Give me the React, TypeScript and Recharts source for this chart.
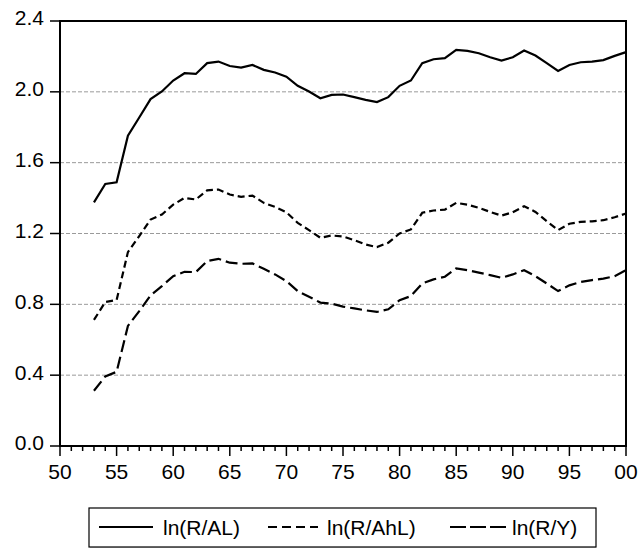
import React from 'react';
import { LineChart, Line, XAxis, YAxis, CartesianGrid, ReferenceArea } from 'recharts';

const years = [
  53, 54, 55, 56, 57, 58, 59, 60, 61, 62, 63, 64, 65, 66, 67, 68, 69, 70, 71, 72, 73, 74, 75, 76,
  77, 78, 79, 80, 81, 82, 83, 84, 85, 86, 87, 88, 89, 90, 91, 92, 93, 94, 95, 96, 97, 98, 99, 100,
];

const lnRAL = [
  1.376, 1.48, 1.489, 1.752, 1.855, 1.959, 2.002, 2.064, 2.105, 2.101, 2.162, 2.171, 2.146, 2.137,
  2.152, 2.124, 2.109, 2.086, 2.034, 2.002, 1.964, 1.983, 1.985, 1.97, 1.955, 1.942, 1.97, 2.034,
  2.064, 2.162, 2.184, 2.19, 2.237, 2.231, 2.218, 2.195, 2.177, 2.195, 2.233, 2.205, 2.162, 2.118,
  2.152, 2.167, 2.171, 2.179, 2.203, 2.224,
];

const lnRAhL = [
  0.712, 0.813, 0.824, 1.095, 1.185, 1.279, 1.307, 1.363, 1.401, 1.392, 1.444, 1.448, 1.42, 1.407,
  1.414, 1.373, 1.35, 1.32, 1.26, 1.219, 1.176, 1.189, 1.183, 1.162, 1.138, 1.123, 1.148, 1.2,
  1.223, 1.317, 1.33, 1.335, 1.373, 1.363, 1.345, 1.322, 1.301, 1.32, 1.354, 1.322, 1.269, 1.219,
  1.255, 1.266, 1.269, 1.275, 1.292, 1.313,
];

const lnRY = [
  0.312, 0.393, 0.419, 0.678, 0.762, 0.851, 0.903, 0.959, 0.984, 0.982, 1.044, 1.057, 1.035, 1.029,
  1.031, 1.001, 0.969, 0.931, 0.875, 0.843, 0.81, 0.804, 0.787, 0.777, 0.766, 0.757, 0.772, 0.823,
  0.847, 0.918, 0.941, 0.956, 1.003, 0.993, 0.979, 0.965, 0.95, 0.969, 0.993, 0.959, 0.918, 0.875,
  0.907, 0.926, 0.937, 0.945, 0.959, 0.993,
];

const yTicks = [0, 0.4, 0.8, 1.2, 1.6, 2.0, 2.4];
// one tick per year, labelled every fifth
const xTicks = Array.from({ length: 51 }, (_, i) => 50 + i);

const data = years.map((yr, i) => ({ year: yr, al: lnRAL[i], ahl: lnRAhL[i], ry: lnRY[i] }));

const FONT = '"Liberation Sans", Arial, sans-serif';

const YearTick = (props: any) => {
  const { x, y, payload } = props;
  const v: number = payload.value;
  const major = v % 5 === 0;
  return (
    <g>
      <line x1={x} x2={x} y1={y} y2={y + (major ? 10 : 5)} stroke="#000" strokeWidth={1.5} />
      {major && (
        <text x={x} y={y + 33} textAnchor="middle" fill="#000" fontSize={21} fontFamily={FONT}>
          {String(v % 100).padStart(2, '0')}
        </text>
      )}
    </g>
  );
};

const LegendBox = () => (
  <svg width={510} height={42} style={{ position: 'absolute', left: 88, top: 507 }}>
    <rect x={1} y={1} width={507} height={39} fill="#fff" stroke="#000" strokeWidth={1.2} />
    <line x1={2} y1={40.5} x2={508} y2={40.5} stroke="#555" strokeWidth={1} />
    <line x1={11} x2={65} y1={20} y2={20} stroke="#000" strokeWidth={2} />
    <text x={75} y={28} fontSize={21} fontFamily={FONT}>ln(R/AL)</text>
    <line x1={180} x2={230} y1={20} y2={20} stroke="#000" strokeWidth={2} strokeDasharray="9 5" />
    <text x={239} y={28} fontSize={21} fontFamily={FONT}>ln(R/AhL)</text>
    <line x1={362} x2={418} y1={20} y2={20} stroke="#000" strokeWidth={2} strokeDasharray="16 4" />
    <text x={424} y={28} fontSize={21} fontFamily={FONT}>ln(R/Y)</text>
  </svg>
);

export default function App() {
  return (
    <div style={{ position: 'absolute', left: 0, top: 0, width: 641, height: 550, background: '#fff' }}>
      <LineChart width={641} height={500} data={data} margin={{ top: 21, right: 15, left: 0, bottom: 10 }}>
        <CartesianGrid vertical={false} stroke="#9a9a9a" strokeDasharray="4 2" />
        <XAxis
          dataKey="year"
          type="number"
          domain={[50, 100]}
          ticks={xTicks}
          interval={0}
          height={44}
          axisLine={false}
          tickLine={false}
          tickSize={0}
          tickMargin={0}
          tick={<YearTick />}
        />
        <YAxis
          type="number"
          domain={[0, 2.4]}
          ticks={yTicks}
          width={60}
          axisLine={false}
          tickSize={10}
          tickMargin={6}
          tickLine={{ stroke: '#000', strokeWidth: 1.5 }}
          tick={{ fill: '#000', fontSize: 21, fontFamily: FONT, dy: -3 }}
          tickFormatter={(v: number) => v.toFixed(1)}
        />
        <Line type="linear" dataKey="al" stroke="#000" strokeWidth={2.2} dot={false} isAnimationActive={false} />
        <Line type="linear" dataKey="ahl" stroke="#000" strokeWidth={2.2} strokeDasharray="7 4" dot={false} isAnimationActive={false} />
        <Line type="linear" dataKey="ry" stroke="#000" strokeWidth={2.2} strokeDasharray="12 5" dot={false} isAnimationActive={false} />
        <ReferenceArea x1={50} x2={100} y1={0} y2={2.4} fill="none" stroke="#000" strokeWidth={2} ifOverflow="visible" />
      </LineChart>
      <LegendBox />
    </div>
  );
}
